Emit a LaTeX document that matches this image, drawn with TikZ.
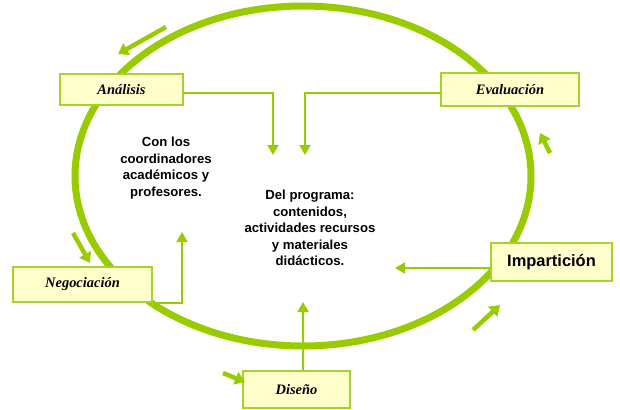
\documentclass[tikz,border=0pt]{standalone}
\usepackage{fontspec}
\setmainfont{Liberation Serif}
\setsansfont{Liberation Sans}
\usetikzlibrary{arrows.meta}
\definecolor{cyclegreen}{HTML}{99CC00}
\definecolor{boxfill}{HTML}{FFFFCC}
\definecolor{boxline}{HTML}{A6D22E}
\begin{document}
\begin{tikzpicture}[x=1bp,y=-1bp,
  stage/.style={draw=boxline, line width=1.5bp, fill=boxfill, inner sep=0pt,
    font=\fontsize{14.5}{16}\selectfont\bfseries\itshape},
  link/.style={draw=cyclegreen, line width=2bp, -{Triangle[length=10bp,width=11bp]}},
  bigarrow/.style={draw=cyclegreen, line width=4.5bp, -{Triangle[length=10bp,width=13bp]}},
  note/.style={font=\sffamily\bfseries\fontsize{13.2}{16.5}\selectfont, align=center}]
\useasboundingbox (0,0) rectangle (620,409);

% the cycle
\draw[cyclegreen, line width=7bp] (303,176) ellipse [x radius=228bp, y radius=170bp];

% stages
\node[stage, minimum width=123bp, minimum height=31bp] (ana) at (121.5,89.5) {Análisis};
\node[stage, minimum width=138bp, minimum height=33bp] (eva) at (510,89.5) {Evaluación};
\node[stage, minimum width=139bp, minimum height=35bp] (neg) at (82.5,284.5) {Negociación};
\node[stage, minimum width=121bp, minimum height=38bp,
      font=\sffamily\bfseries\fontsize{16.5}{18}\selectfont] (imp) at (551.5,262) {Impartición};
\node[stage, minimum width=107bp, minimum height=37bp] (dis) at (296.5,389.5) {Diseño};

% notes
\node[note] (withWho) at (166,168) {Con los\\coordinadores\\académicos y\\profesores.};
\node[note] (program) at (310,228) {Del programa:\\contenidos,\\actividades recursos\\y materiales\\didácticos.};

% connectors
\coordinate (anaTip) at (273,155);
\coordinate (evaTip) at (305,155);
\coordinate (negTip) at (182,232);
\coordinate (impTip) at (395,268);
\coordinate (disTip) at (303,302);
\draw[link] ([yshift=-3.5bp]ana.east) -| (anaTip);
\draw[link] ([yshift=-3.5bp]eva.west) -| (evaTip);
\draw[link] (neg.south east) -| (negTip);
\draw[link] ([yshift=-6bp]imp.west) -- (impTip);
\draw[link] ([xshift=6.5bp]dis.north) -- (disTip);

% direction of the cycle
\coordinate (a1s) at (166,27);  \coordinate (a1e) at (118,54);
\coordinate (a2s) at (73,233);  \coordinate (a2e) at (90,263);
\coordinate (a3s) at (223,373); \coordinate (a3e) at (245,382);
\coordinate (a4s) at (473,330); \coordinate (a4e) at (500,305);
\coordinate (a5s) at (550,153); \coordinate (a5e) at (540,133);
\draw[bigarrow] (a1s) -- (a1e);
\draw[bigarrow] (a2s) -- (a2e);
\draw[bigarrow] (a3s) -- (a3e);
\draw[bigarrow] (a4s) -- (a4e);
\draw[bigarrow] (a5s) -- (a5e);
\end{tikzpicture}
\end{document}
